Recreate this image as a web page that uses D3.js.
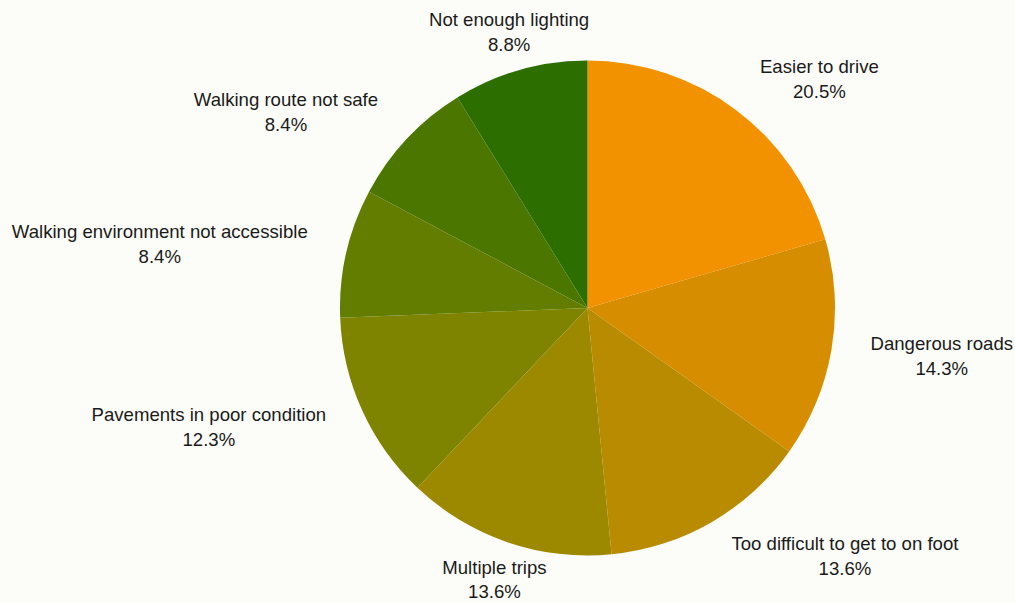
<!DOCTYPE html>
<html><head><meta charset="utf-8">
<script src="https://cdn.jsdelivr.net/npm/d3@7"></script>
<style>
html,body{margin:0;padding:0;background:#fcfdf8;}
svg{display:block;}
text{font-family:"Liberation Sans",Arial,sans-serif;font-size:18.6px;fill:#1a1a1a;}
</style></head>
<body>
<svg id="chart" width="1015" height="603"></svg>
<script>
const categories = ["Easier to drive","Dangerous roads","Too difficult to get to on foot","Multiple trips","Pavements in poor condition","Walking environment not accessible","Walking route not safe","Not enough lighting"];
const values = [20.5,14.3,13.6,13.6,12.3,8.4,8.4,8.8];
const colors = ["#f39200","#d68d00","#b98b00","#9c8900","#7e8400","#637d00","#4b7600","#2c6e00"];

const W = 1015, H = 603;
const cx = 587.5, cy = 308, R = 247.5, labelR = 287;
const svg = d3.select("#chart");
svg.append("rect").attr("width",W).attr("height",H).attr("fill","#fcfdf8");
const g = svg.append("g").attr("transform",`translate(${cx},${cy})`);

const data = categories.map((c,i)=>({cat:c,val:values[i],col:colors[i]}));
const pie = d3.pie().value(d=>d.val).sort(null);
const arcs = pie(data);
const arc = d3.arc().innerRadius(0).outerRadius(R);
const labelArc = d3.arc().innerRadius(labelR).outerRadius(labelR);

g.selectAll("path.slice").data(arcs).join("path")
  .attr("class","slice")
  .attr("d",arc)
  .attr("fill",d=>d.data.col);

const lab = g.selectAll("g.lab").data(arcs).join("g").attr("class","lab")
  .attr("transform",d=>{const [x,y]=labelArc.centroid(d);return `translate(${x},${y})`;});
lab.each(function(d){
  const mid=(d.startAngle+d.endAngle)/2;
  const s=Math.sin(mid);
  const dir=Math.abs(s)<0.4?0:(s>0?1:-1);
  const t=d3.select(this).append("text").attr("text-anchor","middle");
  const t1=t.append("tspan").attr("x",0).attr("y",-12.5).attr("dy","0.35em").text(d.data.cat);
  const t2=t.append("tspan").attr("x",0).attr("y",12.5).attr("dy","0.35em").text(d.data.val.toFixed(1)+"%");
  const w=Math.max(t1.node().getComputedTextLength(),t2.node().getComputedTextLength());
  t1.attr("x",dir*w/2); t2.attr("x",dir*w/2);
});
</script>
</body></html>
